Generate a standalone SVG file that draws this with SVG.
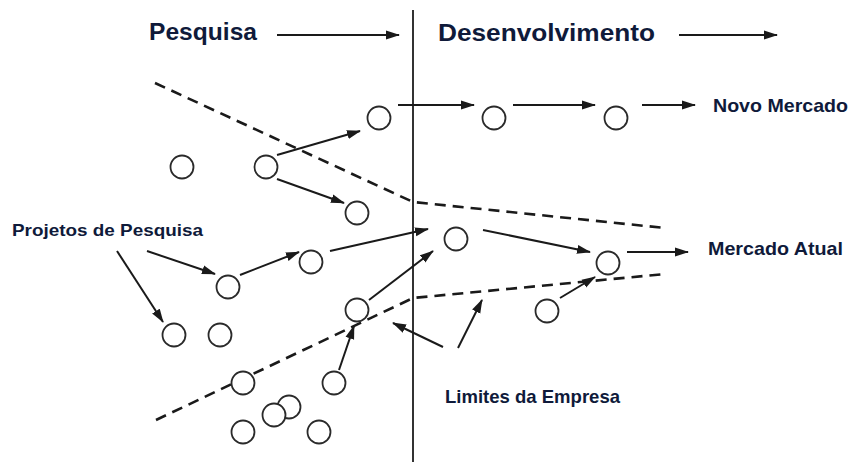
<svg xmlns="http://www.w3.org/2000/svg" width="851" height="465" viewBox="0 0 851 465">
<style>
.t{font-family:"Liberation Sans",Arial,sans-serif;font-weight:bold;fill:#0f1a3a}
.c{fill:#fff;stroke:#2a2a2a;stroke-width:1.8}
.a{stroke:#1a1a1a;stroke-width:2;fill:none;marker-end:url(#ah)}
.d{stroke:#1a1a1a;stroke-width:2.6;fill:none;stroke-dasharray:11 7}
</style>
<defs>
<marker id="ah" markerWidth="14" markerHeight="10" refX="13" refY="5" orient="auto" markerUnits="userSpaceOnUse">
<path d="M0,0.5 L14,5 L0,9.5 Z" fill="#1a1a1a"/>
</marker>
</defs>
<rect width="851" height="465" fill="#fff"/>
<g id="labels">
<text class="t" x="149" y="40" font-size="24" textLength="108" lengthAdjust="spacingAndGlyphs">Pesquisa</text>
<text class="t" x="438" y="41" font-size="24" textLength="217" lengthAdjust="spacingAndGlyphs">Desenvolvimento</text>
<text class="t" x="713" y="112" font-size="18.5" textLength="135" lengthAdjust="spacingAndGlyphs">Novo Mercado</text>
<text class="t" x="708" y="255" font-size="18.5" textLength="135" lengthAdjust="spacingAndGlyphs">Mercado Atual</text>
<text class="t" x="12" y="236" font-size="17" textLength="191" lengthAdjust="spacingAndGlyphs">Projetos de Pesquisa</text>
<text class="t" x="445" y="403" font-size="18.5" textLength="175" lengthAdjust="spacingAndGlyphs">Limites da Empresa</text>
</g>
<g id="divider">
<line x1="413" y1="10" x2="413" y2="462" stroke="#333" stroke-width="2"/>
</g>
<g id="boundaries">
<polyline class="d" points="155,83 413,202 665,228"/>
<polyline class="d" points="156,420 413,298 665,274"/>
</g>
<g id="connectors">
<line class="a" x1="277" y1="35" x2="399" y2="35"/>
<line class="a" x1="679" y1="35" x2="777" y2="35"/>
<line class="a" x1="398" y1="105" x2="474" y2="105"/>
<line class="a" x1="513" y1="105" x2="595" y2="105"/>
<line class="a" x1="642" y1="105" x2="695" y2="105"/>
<line class="a" x1="627" y1="252" x2="688" y2="252"/>
<line class="a" x1="483" y1="230" x2="590" y2="252"/>
<line class="a" x1="560" y1="298" x2="595" y2="277"/>
<line class="a" x1="443" y1="347" x2="393" y2="323"/>
<line class="a" x1="458" y1="348" x2="482" y2="300"/>
<line class="a" x1="117" y1="251" x2="163" y2="322"/>
<line class="a" x1="147" y1="251" x2="215" y2="274"/>
<line class="a" x1="240" y1="275" x2="299" y2="252"/>
<line class="a" x1="330" y1="251" x2="428" y2="229"/>
<line class="a" x1="369" y1="300" x2="433" y2="251"/>
<line class="a" x1="339" y1="370" x2="354" y2="326"/>
<line class="a" x1="277" y1="155" x2="360" y2="131"/>
<line class="a" x1="277" y1="179" x2="344" y2="203"/>
</g>
<g id="nodes">
<circle id="n1" class="c" cx="379" cy="118" r="11.5"/>
<circle id="n2" class="c" cx="182" cy="167" r="11.5"/>
<circle id="n3" class="c" cx="266" cy="167" r="11.5"/>
<circle id="n4" class="c" cx="357" cy="213" r="11.5"/>
<circle id="n5" class="c" cx="494" cy="118" r="11.5"/>
<circle id="n6" class="c" cx="616" cy="118" r="11.5"/>
<circle id="n7" class="c" cx="456" cy="239" r="11.5"/>
<circle id="n8" class="c" cx="608" cy="263" r="11.5"/>
<circle id="n9" class="c" cx="547" cy="311" r="11.5"/>
<circle id="n10" class="c" cx="311" cy="262" r="11.5"/>
<circle id="n11" class="c" cx="228" cy="287" r="11.5"/>
<circle id="n12" class="c" cx="357" cy="310" r="11.5"/>
<circle id="n13" class="c" cx="174" cy="335" r="11.5"/>
<circle id="n14" class="c" cx="220" cy="335" r="11.5"/>
<circle id="n15" class="c" cx="243" cy="383" r="11.5"/>
<circle id="n16" class="c" cx="334" cy="383" r="11.5"/>
<circle id="n17" class="c" cx="289" cy="407" r="11.5"/>
<circle id="n18" class="c" cx="274" cy="415" r="11.5"/>
<circle id="n19" class="c" cx="243" cy="432" r="11.5"/>
<circle id="n20" class="c" cx="319" cy="432" r="11.5"/>
</g>
</svg>
